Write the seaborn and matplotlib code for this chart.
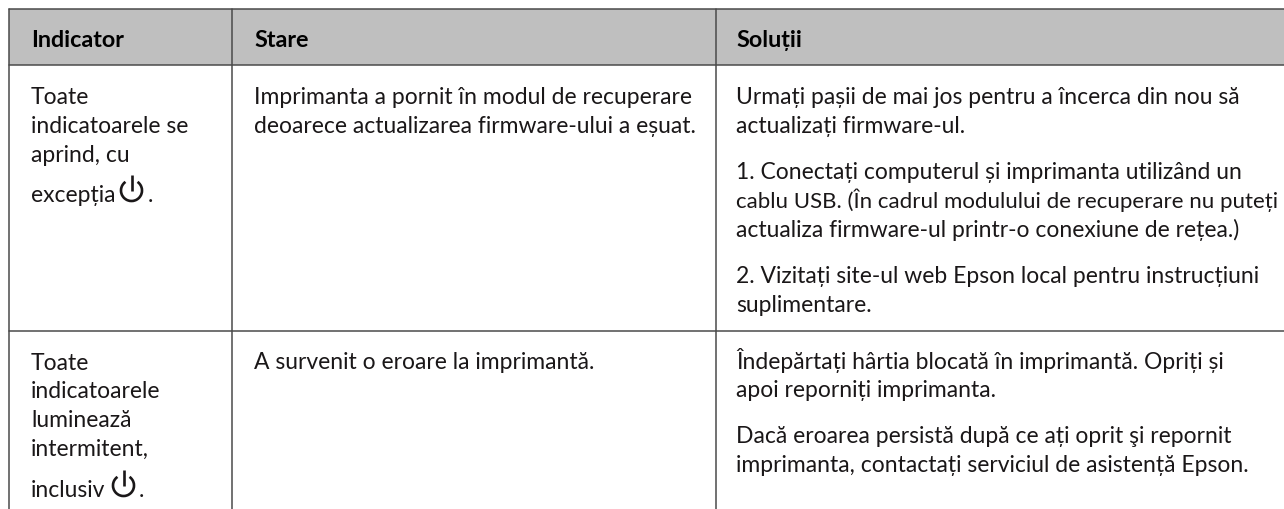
import matplotlib
matplotlib.use("Agg")
import matplotlib.pyplot as plt
import numpy as np
import seaborn as sns
from matplotlib.patches import Arc

# --- Table content ---
HEADERS = ["Indicator", "Stare", "Soluții"]
COL_LEFT = [31, 254, 736]
COL_LINES = [9, 232, 716]
ROW_LINES = [10, 66, 332]
RIGHT_EDGE = 1284

INDICATOR_1 = [(104, "Toate"), (133, "indicatoarele se"), (162, "aprind, cu"), (202, "excepția")]
INDICATOR_2 = [(370, "Toate"), (398, "indicatoarele"), (427, "luminează"),
               (456, "intermitent,"), (497, "inclusiv")]
STARE_1 = [(104, "Imprimanta a pornit în modul de recuperare"),
           (133, "deoarece actualizarea firmware-ului a eșuat.")]
STARE_2 = [(369, "A survenit o eroare la imprimantă.")]
SOLUTII_1 = [(104, "Urmați pașii de mai jos pentru a încerca din nou să"),
             (133, "actualizați firmware-ul."),
             (179, "1. Conectați computerul și imprimanta utilizând un"),
             (237, "actualiza firmware-ul printr-o conexiune de rețea.)"),
             (283, "2. Vizitați site-ul web Epson local pentru instrucțiuni"),
             (312, "suplimentare.")]
SOLUTII_LONG = (208, "cablu USB. (În cadrul modulului de recuperare nu puteți")
SOLUTII_2 = [(369, "Îndepărtați hârtia blocată în imprimantă. Opriți și"),
             (397, "apoi reporniți imprimanta."),
             (443, "Dacă eroarea persistă după ce ați oprit şi repornit"),
             (472, "imprimanta, contactați serviciul de asistență Epson.")]

INK = "#1a1718"
LINE = "#4a4a4a"
HEADER_FILL = "#bfbfbf"
FONT = "Lato"
SIZE = 16.5
HEAD_SIZE = 16.8

sns.set_theme(style="white")
plt.rcParams["font.family"] = [FONT, "DejaVu Sans"]


def draw_power(ax, x, y):
    """Power symbol centred at x, y in pixels."""
    ax.add_patch(Arc((x, y), 21, 21, angle=-90, theta1=35, theta2=325, lw=1.9, color=INK))
    ax.plot([x, x], [y - 16, y], color=INK, lw=1.9, solid_capstyle="butt")


def draw_lines(ax, x, rows, size=SIZE):
    for y, line in rows:
        ax.text(x, y, line, fontsize=size, color=INK, va="baseline")


fig = plt.figure(figsize=(12.84, 5.10), dpi=100)

# header band as a single-cell heatmap, sitting between the first two rules
head_ax = fig.add_axes([COL_LINES[0] / 1284, 1 - ROW_LINES[1] / 510,
                        (RIGHT_EDGE - COL_LINES[0]) / 1284, (ROW_LINES[1] - ROW_LINES[0]) / 510])
sns.heatmap(np.zeros((1, 1)), ax=head_ax, cbar=False, xticklabels=False, yticklabels=False,
            cmap=sns.color_palette([HEADER_FILL], as_cmap=True))

ax = fig.add_axes([0, 0, 1, 1])
ax.set_xlim(0, 1284)
ax.set_ylim(510, 0)
ax.axis("off")
ax.patch.set_alpha(0)

for y in ROW_LINES:
    ax.plot([COL_LINES[0], RIGHT_EDGE], [y, y], color=LINE, lw=1.1)
for x in COL_LINES:
    ax.plot([x, x], [ROW_LINES[0], 510], color=LINE, lw=1.1)

for x, label in zip(COL_LEFT, HEADERS):
    ax.text(x, 47, label, fontsize=HEAD_SIZE, fontweight="bold", color="black", va="baseline")

draw_lines(ax, COL_LEFT[0], INDICATOR_1)
draw_power(ax, 131.5, 191.5)
ax.text(148, 202, ".", fontsize=SIZE, color=INK, va="baseline")

draw_lines(ax, COL_LEFT[0], INDICATOR_2)
draw_power(ax, 123.5, 486.5)
ax.text(139, 497, ".", fontsize=SIZE, color=INK, va="baseline")

draw_lines(ax, COL_LEFT[1], STARE_1 + STARE_2)
draw_lines(ax, COL_LEFT[2], SOLUTII_1 + SOLUTII_2)
# this line runs wide in Lato, so it gets a slightly smaller size to stay in the cell
draw_lines(ax, COL_LEFT[2], [SOLUTII_LONG], size=16.0)

fig.savefig("out.png", dpi=100)
